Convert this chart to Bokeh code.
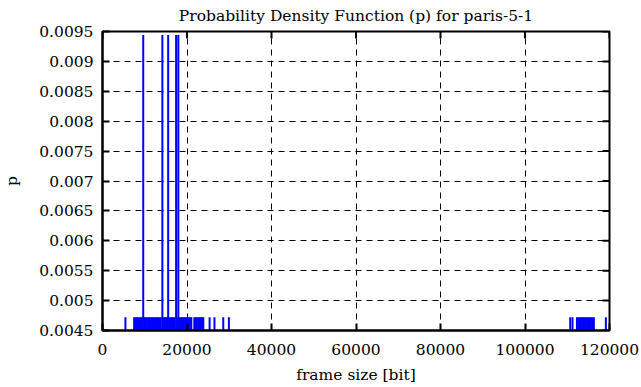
import math
from bokeh.plotting import figure
from bokeh.models import FixedTicker, LinearAxis, Range1d
from bokeh.embed import file_html
from bokeh.resources import INLINE

title_text = "Probability Density Function (p) for paris-5-1"
x_label = "frame size [bit]"
y_label = "p"

# frame sizes seen once (p ~ 1/212)
sizes_once = [5430,
              7490, 7810, 8150, 8420, 8760, 9050, 9330, 9870, 10140, 10460,
              10790, 11050, 11380, 11690, 11960, 12270, 12580, 12890, 13150,
              13460, 13790, 14480, 14760, 15080, 15310, 15870, 16140, 16450,
              16770, 17050, 17620, 18330, 18640, 18960, 19270, 19580, 19860,
              20170, 20460, 20740, 21020,
              21730, 22020, 22310, 22640, 22950, 23260, 23570, 23860,
              25350, 26500, 28580, 29920,
              110700, 111250, 112290, 112600, 112900, 113200, 113500, 113800,
              114100, 114400, 114700, 115000, 115300, 115600, 115900, 116300,
              119140]
p_once = 0.00472
# frame sizes seen twice (p ~ 2/212)
sizes_twice = [9640, 14170, 15540, 17420, 17950]
p_twice = 0.00944

x_ticks = [0, 20000, 40000, 60000, 80000, 100000, 120000]
x_tick_labels = ["0", "20000", "40000", "60000", "80000", "100000", "120000"]
y_ticks = [0.0045, 0.005, 0.0055, 0.006, 0.0065, 0.007, 0.0075, 0.008,
           0.0085, 0.009, 0.0095]
y_tick_labels = ["0.0045", "0.005", "0.0055", "0.006", "0.0065", "0.007",
                 "0.0075", "0.008", "0.0085", "0.009", "0.0095"]

sizes = sizes_once + sizes_twice
probs = [p_once] * len(sizes_once) + [p_twice] * len(sizes_twice)

X_MIN, X_MAX = 0, 120000
Y_MIN, Y_MAX = 0.0045, 0.0095

FONT = "DejaVu Serif"
FS = "15.5px"

p = figure(width=641, height=387, output_backend="svg", toolbar_location=None,
           x_range=Range1d(X_MIN, X_MAX), y_range=Range1d(Y_MIN, Y_MAX),
           min_border_left=101, min_border_right=32, min_border_top=31,
           min_border_bottom=57, x_axis_location=None, y_axis_location=None)

p.title.text = title_text
p.title.align = "center"
p.title.vertical_align = "top"
p.title.text_font = FONT
p.title.text_font_size = FS
p.title.text_font_style = "normal"
p.title.text_color = "black"
p.title.standoff = 9
p.title.offset = 0

p.outline_line_color = "black"
p.outline_line_width = 2
p.outline_line_alpha = 1

p.segment(x0=sizes, y0=[0] * len(sizes), x1=sizes, y1=probs,
          line_color="#0000ff", line_width=2)

# mirrored tick marks on the top and right borders (half inside the frame)
p.scatter(x=x_ticks, y=[Y_MAX] * len(x_ticks), marker="dash", size=14,
          angle=math.pi / 2, line_color="black", line_width=2)
p.scatter(x=[X_MAX] * len(y_ticks), y=y_ticks, marker="dash", size=14,
          line_color="black", line_width=2)

x_over = {t: l for t, l in zip(x_ticks, x_tick_labels)}
y_over = {t: l for t, l in zip(y_ticks, y_tick_labels)}

def style_axis(ax):
    ax.axis_line_color = "black"
    ax.axis_line_width = 2
    ax.major_tick_in = 7
    ax.major_tick_out = 0
    ax.major_tick_line_width = 2
    ax.major_tick_line_color = "black"
    ax.minor_tick_line_color = None
    ax.major_label_text_font = FONT
    ax.major_label_text_font_size = FS
    ax.major_label_text_color = "black"
    ax.axis_label_text_font = FONT
    ax.axis_label_text_font_size = FS
    ax.axis_label_text_font_style = "normal"
    ax.axis_label_text_color = "black"

bottom = LinearAxis(ticker=FixedTicker(ticks=x_ticks), axis_label=x_label,
                    major_label_overrides=x_over)
style_axis(bottom)
bottom.major_label_standoff = 13
bottom.axis_label_standoff = 8
p.add_layout(bottom, "below")

left = LinearAxis(ticker=FixedTicker(ticks=y_ticks), axis_label=y_label,
                  major_label_overrides=y_over)
style_axis(left)
left.major_label_standoff = 9
left.axis_label_standoff = 15
p.add_layout(left, "left")

p.xgrid.ticker = FixedTicker(ticks=x_ticks)
p.ygrid.ticker = FixedTicker(ticks=y_ticks)
for g in (p.xgrid, p.ygrid):
    g.grid_line_color = "black"
    g.grid_line_width = 1
    g.grid_line_dash = "6 5"
    g.grid_line_alpha = 1

p.background_fill_color = "white"
p.border_fill_color = "white"

open("out.html", "w").write(file_html(p, INLINE))
